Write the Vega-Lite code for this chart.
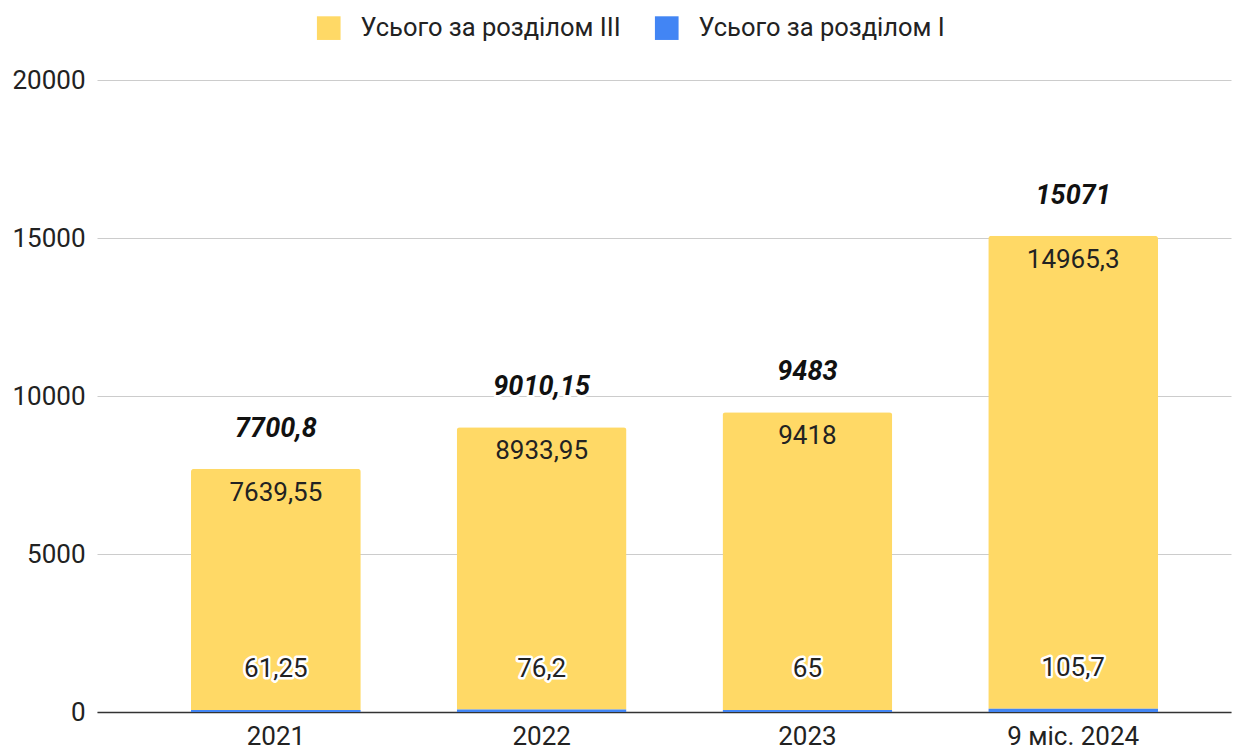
{
  "$schema": "https://vega.github.io/schema/vega-lite/v6.json",
  "width": 1134,
  "height": 632,
  "autosize": {"type": "none"},
  "padding": {"left": 97, "top": 80, "right": 12, "bottom": 37},
  "background": "white",
  "config": {
    "font": "Roboto",
    "view": {"stroke": null},
    "axis": {"labelFont": "Roboto", "labelColor": "#222222", "labelFontSize": 26}
  },
  "data": {
    "values": [
      {"year": "2021", "Усього за розділом III": 7639.55, "Усього за розділом I": 61.25, "total": 7700.8, "lIII": "7639,55", "lI": "61,25", "lT": "7700,8"},
      {"year": "2022", "Усього за розділом III": 8933.95, "Усього за розділом I": 76.2, "total": 9010.15, "lIII": "8933,95", "lI": "76,2", "lT": "9010,15"},
      {"year": "2023", "Усього за розділом III": 9418, "Усього за розділом I": 65, "total": 9483, "lIII": "9418", "lI": "65", "lT": "9483"},
      {"year": "9 міс. 2024", "Усього за розділом III": 14965.3, "Усього за розділом I": 105.7, "total": 15071, "lIII": "14965,3", "lI": "105,7", "lT": "15071"}
    ]
  },
  "encoding": {
    "x": {
      "field": "year",
      "type": "nominal",
      "sort": null,
      "title": null,
      "scale": {"paddingInner": 0.361, "paddingOuter": 0.314, "align": 0.563},
      "axis": {"labelAngle": 0, "ticks": false, "domainColor": "#333333", "domainWidth": 1.5, "labelPadding": 11, "grid": false}
    }
  },
  "layer": [
    {
      "transform": [{"fold": ["Усього за розділом III", "Усього за розділом I"], "as": ["section", "value"]}],
      "mark": {"type": "bar", "cornerRadiusTopLeft": 3, "cornerRadiusTopRight": 3},
      "encoding": {
        "y": {
          "field": "value",
          "type": "quantitative",
          "stack": "zero",
          "title": null,
          "scale": {"domain": [0, 20000], "nice": false},
          "axis": {"values": [0, 5000, 10000, 15000, 20000], "format": "d", "domain": false, "ticks": false, "gridColor": "#cccccc", "gridWidth": 1, "labelPadding": 12}
        },
        "color": {
          "field": "section",
          "type": "nominal",
          "scale": {"domain": ["Усього за розділом III", "Усього за розділом I"], "range": ["#FFD966", "#4285F4"]},
          "legend": {
            "title": null,
            "orient": "none",
            "direction": "horizontal",
            "legendX": 219,
            "legendY": -65,
            "padding": 0,
            "symbolType": "square",
            "symbolSize": 560,
            "symbolStrokeWidth": 0,
            "symbolOpacity": 1,
            "labelFont": "Roboto",
            "labelFontSize": 25.5,
            "labelColor": "#222222",
            "labelOffset": 19,
            "columnPadding": 33,
            "labelLimit": 400
          }
        },
        "order": {"field": "section", "sort": "ascending"}
      }
    },
    {
      "mark": {"type": "text", "font": "Roboto", "fontSize": 26, "color": "#222222", "dy": 24, "baseline": "middle"},
      "encoding": {"y": {"field": "total", "type": "quantitative"}, "text": {"field": "lIII"}}
    },
    {
      "mark": {"type": "text", "font": "Roboto", "fontSize": 26, "stroke": "white", "strokeWidth": 5, "strokeJoin": "round", "color": "white", "dy": -41, "baseline": "middle"},
      "encoding": {"y": {"field": "Усього за розділом I", "type": "quantitative"}, "text": {"field": "lI"}}
    },
    {
      "mark": {"type": "text", "font": "Roboto", "fontSize": 26, "color": "#222222", "dy": -41, "baseline": "middle"},
      "encoding": {"y": {"field": "Усього за розділом I", "type": "quantitative"}, "text": {"field": "lI"}}
    },
    {
      "mark": {"type": "text", "font": "Roboto", "fontSize": 27, "fontWeight": "bold", "fontStyle": "italic", "stroke": "white", "strokeWidth": 5, "strokeJoin": "round", "color": "white", "dy": -40, "baseline": "middle"},
      "encoding": {"y": {"field": "total", "type": "quantitative"}, "text": {"field": "lT"}}
    },
    {
      "mark": {"type": "text", "font": "Roboto", "fontSize": 27, "fontWeight": "bold", "fontStyle": "italic", "color": "#111111", "dy": -40, "baseline": "middle"},
      "encoding": {"y": {"field": "total", "type": "quantitative"}, "text": {"field": "lT"}}
    }
  ]
}
